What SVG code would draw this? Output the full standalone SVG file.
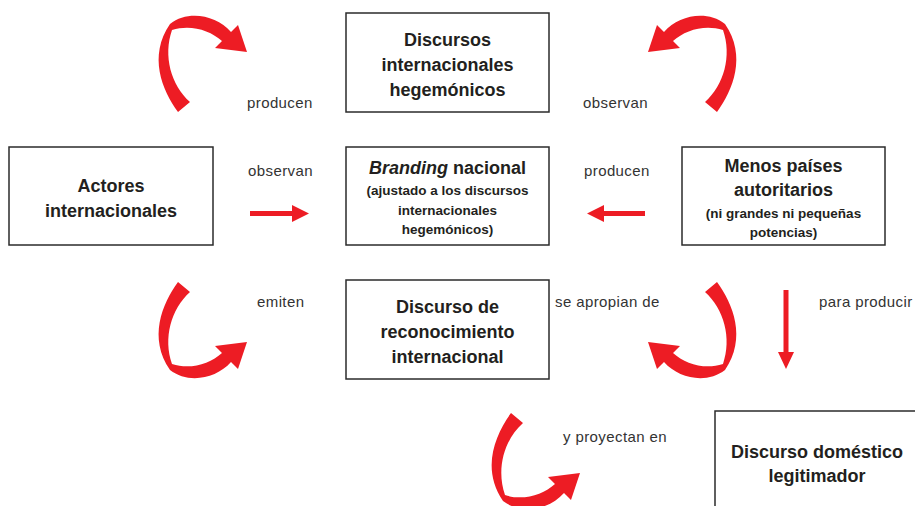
<svg xmlns="http://www.w3.org/2000/svg" xmlns:xlink="http://www.w3.org/1999/xlink" width="915" height="506" viewBox="0 0 915 506">
<style>
.box{fill:#fff;stroke:#2b2b2b;stroke-width:1.5}
.t{font-family:"Liberation Sans",Arial,sans-serif;font-weight:bold;font-size:18px;fill:#231f20;text-anchor:middle}
.s{font-family:"Liberation Sans",Arial,sans-serif;font-weight:bold;font-size:13.5px;fill:#231f20;text-anchor:middle}
.l{font-family:"Liberation Sans",Arial,sans-serif;font-size:15px;letter-spacing:0.4px;fill:#333}
.red{fill:#ed1c24}
</style>
<defs>
<path id="curl" d="M178,112 C162,90 148,56 170,24 C188,10 216,15 231,32 L238,25 L247,52 L215,48 L222,41 C210,30 190,24 172,30 C163,56 171,85 190,102 Z"/>
</defs>
<rect width="915" height="506" fill="#fff"/>
<g id="connectors" class="red">
<use xlink:href="#curl"/>
<use xlink:href="#curl" transform="translate(895,0) scale(-1,1)"/>
<use xlink:href="#curl" transform="translate(0,394) scale(1,-1)"/>
<use xlink:href="#curl" transform="translate(895,394) scale(-1,-1)"/>
<use xlink:href="#curl" transform="translate(333,525) scale(1,-1)"/>
<path d="M250,211 H292 V205 L309,213.5 L292,222 V216 H250 Z"/>
<path d="M645,211 H604 V205 L587,213.5 L604,222 V216 H645 Z"/>
<path d="M783.5,290 V352 H778 L786,369 L794,352 H788.5 V290 Z"/>
</g>
<g id="labels" class="l">
<text x="247" y="108">producen</text>
<text x="583" y="108">observan</text>
<text x="248" y="176">observan</text>
<text x="584" y="176">producen</text>
<text x="257" y="307">emiten</text>
<text x="555" y="307">se apropian de</text>
<text x="819" y="307">para producir</text>
<text x="563" y="442">y proyectan en</text>
</g>
<g id="n-discursos">
<rect class="box" x="346" y="13" width="203" height="99"/>
<text class="t" x="447.5" y="46">Discursos</text>
<text class="t" x="447.5" y="71">internacionales</text>
<text class="t" x="447.5" y="96">hegemónicos</text>
</g>
<g id="n-actores">
<rect class="box" x="9" y="147" width="204" height="98"/>
<text class="t" x="111" y="191.5">Actores</text>
<text class="t" x="111" y="216.5">internacionales</text>
</g>
<g id="n-branding">
<rect class="box" x="346" y="147" width="203" height="98"/>
<text class="t" x="447.5" y="174"><tspan font-style="italic">Branding</tspan> nacional</text>
<text class="s" x="447.5" y="195">(ajustado a los discursos</text>
<text class="s" x="447.5" y="215">internacionales</text>
<text class="s" x="447.5" y="234">hegemónicos)</text>
</g>
<g id="n-menos">
<rect class="box" x="682" y="147" width="203" height="98"/>
<text class="t" x="783.5" y="172">Menos países</text>
<text class="t" x="783.5" y="196">autoritarios</text>
<text class="s" x="783.5" y="218">(ni grandes ni pequeñas</text>
<text class="s" x="783.5" y="237">potencias)</text>
</g>
<g id="n-reconocimiento">
<rect class="box" x="346" y="280" width="203" height="99"/>
<text class="t" x="447.5" y="312.5">Discurso de</text>
<text class="t" x="447.5" y="337.5">reconocimiento</text>
<text class="t" x="447.5" y="362.5">internacional</text>
</g>
<g id="n-domestico">
<rect class="box" x="715" y="411" width="210" height="110"/>
<text class="t" x="817" y="458">Discurso doméstico</text>
<text class="t" x="817" y="482">legitimador</text>
</g>
</svg>
